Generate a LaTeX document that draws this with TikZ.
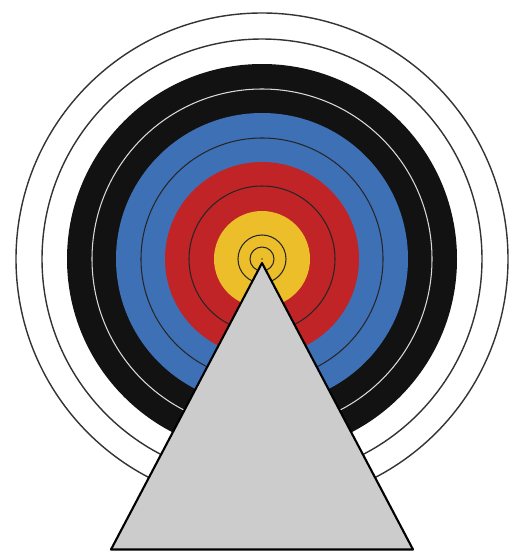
\documentclass[tikz,border=0pt]{standalone}
\definecolor{tblue}{RGB}{62,112,182}
\definecolor{tred}{RGB}{192,36,38}
\definecolor{tyellow}{RGB}{236,190,42}
\definecolor{tgray}{RGB}{204,204,204}
\begin{document}
\begin{tikzpicture}[x=0.02cm, y=-0.02cm, line join=round, line cap=round,
  ring/.style={draw=black!80, line width=0.8pt},
  inring/.style={draw=black!85, line width=0.6pt}
]
  \useasboundingbox (0,0) rectangle (517,551);
  \fill[white] (0,0) rectangle (517,551);

  \coordinate (c) at (262,259);
  \coordinate (apex) at (262,263);
  \coordinate (bl) at (111,549.5);
  \coordinate (br) at (413,549.5);

  % colour zones
  \fill[black!93] (c) circle (195);
  \fill[tblue] (c) circle (146);
  \fill[tred] (c) circle (97);
  \fill[tyellow] (c) circle (48);

  % ring lines
  \draw[ring] (c) circle (246) (c) circle (220);
  \draw[white!85!black, line width=0.6pt] (c) circle (170);
  \draw[inring] (c) circle (121) (c) circle (73) (c) circle (24) (c) circle (12);
  \fill[black!70] (c) circle (0.9);

  \draw[line width=1.2pt, fill=tgray] (apex)--(bl)--(br)--cycle;
\end{tikzpicture}
\end{document}
